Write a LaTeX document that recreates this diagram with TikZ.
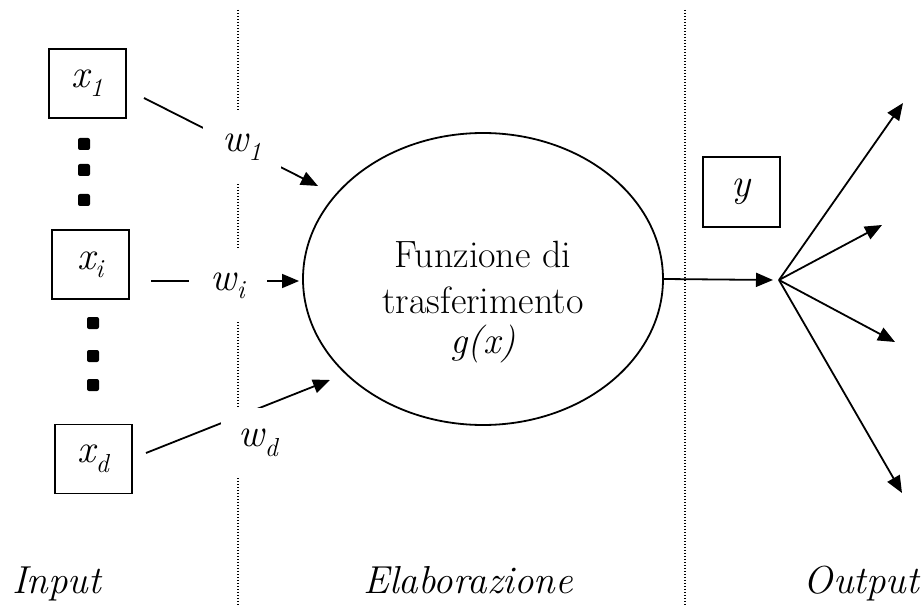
\documentclass[tikz,border=0pt]{standalone}
\usepackage{fontspec}
\usetikzlibrary{arrows.meta,shapes.geometric}
\newcommand{\vsub}[2]{{\itshape #1\textsubscript{\fontsize{26}{30}\selectfont#2}}}
\begin{document}
\begin{tikzpicture}[x=1pt,y=-1pt,
  inbox/.style={draw,line width=1.8pt,minimum width=77pt,minimum height=69pt,inner sep=0pt,font=\fontsize{40}{44}\selectfont},
  wlab/.style={fill=white,minimum width=78pt,minimum height=72pt,inner sep=0pt,font=\fontsize{40}{44}\selectfont},
  conn/.style={line width=1.8pt,-{Triangle[length=17pt,width=14pt]}},
  sepline/.style={line width=1.3pt,dash pattern=on 1.3pt off 1.7pt},
  dotsq/.style={rectangle,fill=black,rounded corners=2pt,minimum size=12pt,inner sep=0pt},
  seclabel/.style={font=\fontsize{39}{44}\selectfont\itshape,anchor=base,inner sep=0pt},
  gtext/.style={font=\fontsize{38}{44}\selectfont,anchor=base,inner sep=0pt}
]
\fill[white] (0,0) rectangle (922,607);
\useasboundingbox (0,0) rectangle (922,607);

% separators
\coordinate (s1top) at (238,10);
\coordinate (s1bot) at (238,607);
\coordinate (s2top) at (685,10);
\coordinate (s2bot) at (685,607);
\draw[sepline] (s1top) -- (s1bot);
\draw[sepline] (s2top) -- (s2bot);

% input boxes
\node[inbox] (x1) at (87.5,83.5) {\vsub{x}{1}};
\node[inbox] (xi) at (90.5,264.5) {\vsub{x}{i}};
\node[inbox] (xd) at (93.5,459) {\vsub{x}{d}};

% dots
\node[dotsq] (d1) at (84,144) {};
\node[dotsq] (d2) at (84,170) {};
\node[dotsq] (d3) at (84,200) {};
\node[dotsq] (d4) at (93,323) {};
\node[dotsq] (d5) at (93,356) {};
\node[dotsq] (d6) at (93,385) {};

% neuron
\node[draw,ellipse,line width=1.8pt,minimum width=360pt,minimum height=292pt,inner sep=0pt] (g) at (483,279) {};
\node[gtext] (gt1) at (483,267) {Funzione di};
\node[gtext] (gt2) at (483,313) {trasferimento};
\node[gtext] (gt3) at (483,353) {\textit{g(x)}};

% weighted connections
\coordinate (a1) at (144,98);
\coordinate (b1) at (318,186);
\coordinate (ai) at (151,281);
\coordinate (bi) at (299,281);
\coordinate (ad) at (146,453);
\coordinate (bd) at (330,380);
\draw[conn] (a1) -- (b1);
\draw[conn] (ai) -- (bi);
\draw[conn] (ad) -- (bd);
\node[wlab] (w1) at (242,147) {\vsub{w}{1}};
\node[wlab] (wi) at (228,285.5) {\vsub{w}{i}};
\node[wlab,minimum width=75pt,minimum height=70pt] (wd) at (258.5,443) {\vsub{w}{d}};

% output
\node[inbox,minimum height=70pt] (y) at (741.5,192) {\textit{y}};
\coordinate (yin) at (773,280);
\coordinate (fan) at (779,280);
\draw[conn] (g.east) -- (yin);
\coordinate (o1) at (903,103);
\coordinate (o2) at (882,225);
\coordinate (o3) at (895,342);
\coordinate (o4) at (902,493);
\draw[conn] (fan) -- (o1);
\draw[conn] (fan) -- (o2);
\draw[conn] (fan) -- (o3);
\draw[conn] (fan) -- (o4);

% section labels
\node[seclabel] (lin) at (56.5,593) {Input};
\node[seclabel] (lel) at (468,593) {Elaborazione};
\node[seclabel] (lout) at (861.5,593) {Output};
\end{tikzpicture}
\end{document}
